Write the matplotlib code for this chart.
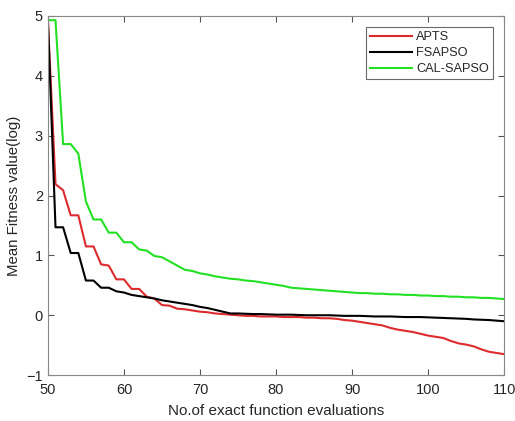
import matplotlib
matplotlib.use("Agg")
import matplotlib.pyplot as plt

plt.rcParams['font.family'] = ['Liberation Sans', 'DejaVu Sans']

evals = list(range(50, 111))

apts = [4.93, 2.19, 2.09, 1.67, 1.67, 1.15, 1.15, 0.85, 0.83, 0.60,
        0.60, 0.44, 0.44, 0.31, 0.28, 0.17, 0.16, 0.11, 0.10, 0.08,
        0.06, 0.05, 0.03, 0.02, 0.01, 0.00, -0.01, -0.01, -0.02, -0.02,
        -0.02, -0.03, -0.03, -0.03, -0.04, -0.04, -0.05, -0.05, -0.06, -0.08,
        -0.09, -0.11, -0.13, -0.15, -0.17, -0.21, -0.24, -0.26, -0.28, -0.31,
        -0.34, -0.36, -0.38, -0.43, -0.47, -0.49, -0.52, -0.57, -0.61, -0.63,
        -0.65]

fsapso = [4.93, 1.47, 1.47, 1.04, 1.04, 0.58, 0.58, 0.46, 0.46, 0.40,
          0.38, 0.34, 0.32, 0.30, 0.28, 0.25, 0.23, 0.21, 0.19, 0.17,
          0.14, 0.12, 0.09, 0.06, 0.03, 0.03, 0.025, 0.02, 0.02, 0.015,
          0.01, 0.01, 0.01, 0.005, 0.0, 0.0, 0.0, 0.0, -0.005, -0.01,
          -0.01, -0.01, -0.015, -0.02, -0.02, -0.02, -0.025, -0.03, -0.03, -0.03,
          -0.035, -0.04, -0.045, -0.05, -0.055, -0.06, -0.07, -0.075, -0.08, -0.09,
          -0.10]

cal_sapso = [4.93, 4.93, 2.86, 2.86, 2.70, 1.90, 1.60, 1.60, 1.38, 1.38,
             1.22, 1.22, 1.10, 1.08, 0.99, 0.97, 0.90, 0.83, 0.76, 0.74,
             0.70, 0.68, 0.65, 0.63, 0.61, 0.60, 0.58, 0.57, 0.55, 0.53,
             0.51, 0.49, 0.46, 0.45, 0.44, 0.43, 0.42, 0.41, 0.40, 0.39,
             0.38, 0.37, 0.37, 0.36, 0.36, 0.35, 0.35, 0.34, 0.34, 0.33,
             0.33, 0.32, 0.32, 0.31, 0.31, 0.30, 0.30, 0.29, 0.29, 0.28,
             0.27]

fig = plt.figure(figsize=(5.15, 4.21), dpi=100)
ax = fig.add_axes([0.093, 0.109, 0.886, 0.853])

ax.plot(evals, apts, color='#dd2a2c', lw=1.5, label='APTS')
ax.plot(evals, fsapso, color='black', lw=1.5, label='FSAPSO')
ax.plot(evals, cal_sapso, color='#22e022', lw=1.5, label='CAL-SAPSO')

ax.set_xlim(50, 110)
ax.set_ylim(-1, 5)
ax.set_xticks(range(50, 111, 10))
ax.set_yticks(range(-1, 6))
ax.tick_params(direction='in', top=True, right=True, labelsize=10.5,
               length=4, color='#555555', labelcolor='#262626')
ax.tick_params(axis='x', pad=6)
for s in ax.spines.values():
    s.set_color('#888888')

ax.set_xlabel('No.of exact function evaluations', fontsize=11, labelpad=5,
              color='#262626')
ax.set_ylabel('Mean Fitness value(log)', fontsize=10.8, labelpad=4,
              color='#262626')

leg = ax.legend(loc='upper right', fontsize=9.2, frameon=True, fancybox=False,
                handlelength=3.3, borderaxespad=0.85, labelspacing=0.3,
                handletextpad=0.3, borderpad=0.35)
leg.get_frame().set_edgecolor('#444444')
leg.get_frame().set_linewidth(0.8)
for t in leg.get_texts():
    t.set_color('#262626')

fig.savefig('out.png', dpi=100)
